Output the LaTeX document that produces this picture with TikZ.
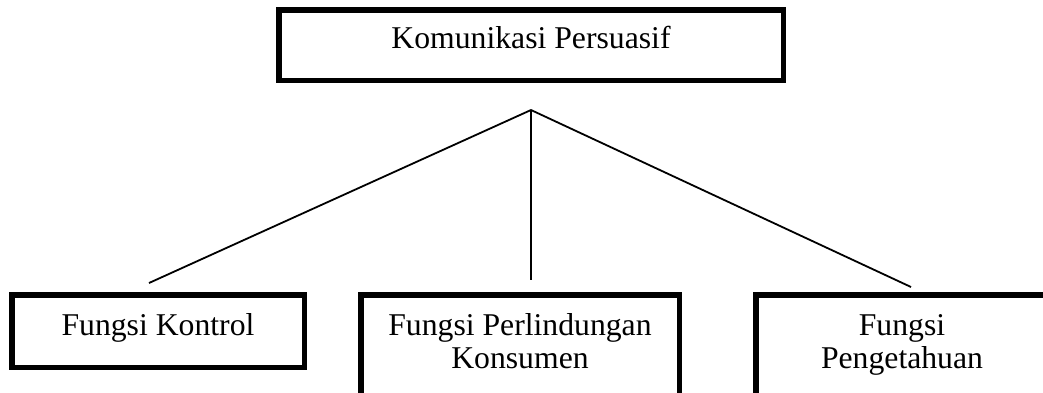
\documentclass[tikz,border=0pt]{standalone}
\usepackage{fontspec}
\setmainfont{Liberation Serif}
\begin{document}
\begin{tikzpicture}[x=1pt,y=-1pt,
  boxst/.style={draw=black,line width=5.5pt,rectangle,inner sep=0pt,outer sep=0pt},
  lbl/.style={font=\fontsize{31.7}{33.5}\selectfont,inner sep=0pt,outer sep=0pt,align=center,anchor=base},
  conn/.style={draw=black,line width=1.8pt}]
\useasboundingbox (0,0) rectangle (1043,392);
\clip (0,0) rectangle (1043,392);
\fill[white] (0,0) rectangle (1043,392);
% boxes
\node[boxst,minimum width=504.5pt,minimum height=70.5pt] (top) at (531,45) {};
\node[boxst,minimum width=292.5pt,minimum height=72.5pt] (left) at (158,331) {};
\node[boxst,minimum width=318.5pt,minimum height=112.5pt] (mid) at (520,351) {};
\node[boxst,minimum width=292.5pt,minimum height=112.5pt] (right) at (902,351) {};
% texts (base anchor = baseline of the last line)
\node[lbl] (toptext) at (531,48) {Komunikasi Persuasif};
\node[lbl] (lefttext) at (158,335) {Fungsi Kontrol};
\node[lbl] (midtext) at (520,368.5) {Fungsi Perlindungan\\Konsumen};
\node[lbl] (righttext) at (902,368.5) {Fungsi\\Pengetahuan};
% connectors
\coordinate (apex) at (531,110);
\coordinate (endL) at (149,283);
\coordinate (endM) at (531,280);
\coordinate (endR) at (911,287);
\draw[conn] (apex) -- (endL);
\draw[conn] (apex) -- (endM);
\draw[conn] (apex) -- (endR);
\end{tikzpicture}
\end{document}
